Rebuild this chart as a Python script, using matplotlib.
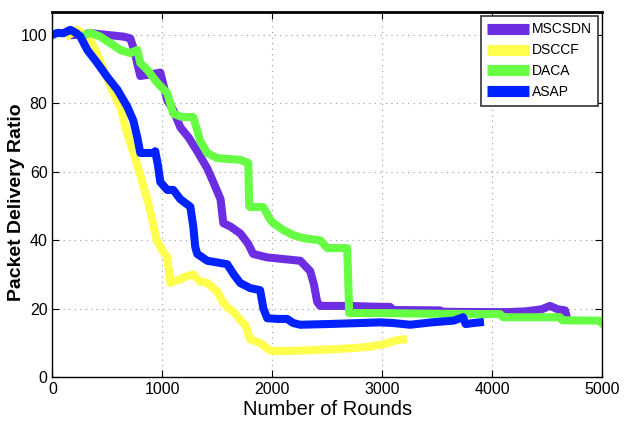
import numpy as np
import matplotlib.pyplot as plt

plt.rcParams['font.family'] = ['Liberation Sans', 'DejaVu Sans']

# MSCSDN (purple)
msc_x = [200, 350, 500, 650, 709, 740, 800, 900, 982, 1045, 1100, 1164, 1240, 1318, 1409,
         1464, 1530, 1555, 1620, 1709, 1780, 1827, 1950, 2100, 2255, 2345, 2380, 2409, 2436,
         2700, 2900, 3073, 3100, 3527, 3550, 3900, 4136, 4300, 4450, 4527, 4600, 4664, 4680]
msc_y = [100, 100.5, 100, 99.5, 99, 96, 88, 88.5, 89, 81, 78, 73, 70, 66, 61,
         57, 52, 45, 44, 42, 39, 36, 35, 34.5, 34, 31, 27, 22, 20.8,
         20.8, 20.6, 20.5, 19.6, 19.5, 19.1, 19, 19, 19.2, 19.8, 20.8, 19.8, 19.5, 17.5]

# DSCCF (yellow)
dsc_x = [150, 227, 300, 345, 400, 464, 555, 618, 682, 773, 827, 880, 950, 1000, 1045,
         1073, 1100, 1160, 1220, 1282, 1340, 1409, 1500, 1550, 1590, 1650, 1709, 1760, 1800,
         1890, 1950, 1982, 2100, 2300, 2600, 2864, 3000, 3136, 3190]
dsc_y = [100, 101.5, 100, 98.5, 95, 90, 83, 79, 71, 62, 56, 50, 40, 37, 35,
         27.5, 28, 28.5, 29.5, 30, 28, 27.5, 25, 22, 20.5, 19, 16.7, 15, 11,
         10, 8.5, 7.7, 7.6, 7.8, 8.2, 8.8, 9.5, 10.8, 11]

# DACA (green)
dac_x = [300, 345, 436, 527, 618, 709, 773, 800, 864, 955, 1045, 1100, 1180, 1282, 1345,
         1409, 1500, 1709, 1782, 1790, 1800, 1918, 1982, 2009, 2100, 2191, 2300, 2436, 2500,
         2682, 2690, 2700, 3000, 3500, 4073, 4100, 4618, 4640, 4980, 5000]
dac_y = [100, 100.6, 99.5, 97.6, 95.6, 94.7, 95.6, 91.8, 89.8, 86, 83, 77, 76, 76, 69,
         65.5, 64, 63.5, 62.6, 50, 49.7, 49.7, 46, 45, 43, 41.5, 40.5, 40, 37.7,
         37.7, 30, 18.7, 18.7, 18.5, 18.4, 17.5, 17.5, 16.6, 16.5, 15.8]

# ASAP (blue)
asp_x = [0, 45, 100, 164, 220, 255, 318, 409, 500, 591, 682, 736, 773, 800, 860, 918,
         936, 960, 982, 1045, 1100, 1164, 1255, 1282, 1300, 1318, 1409, 1500, 1590, 1650,
         1709, 1800, 1890, 1920, 1955, 2050, 2136, 2191, 2255, 2500, 2800, 2982, 3100,
         3255, 3450, 3650, 3736, 3760, 3830, 3890]
asp_y = [100, 100.6, 100.5, 101.5, 100.5, 99.5, 95.6, 91.8, 87.7, 84, 79, 75, 70, 65.5, 65.5, 65.5,
         66, 62, 57, 54.7, 54.7, 52, 49.8, 44, 38, 36, 34, 33.5, 33, 30,
         27.5, 26, 25.4, 20, 17.2, 17, 17, 15.8, 15.3, 15.5, 15.8, 16, 15.8,
         15.3, 16, 16.5, 17.5, 15.5, 15.8, 16]

fig = plt.figure(figsize=(6.31, 4.29), dpi=100)
ax = fig.add_axes([0.083, 0.121, 0.871, 0.851])

lw = 5.8
ax.plot(msc_x, msc_y, color='#6c2ee0', lw=lw, label='MSCSDN', solid_joinstyle='round')
ax.plot(dsc_x, dsc_y, color='#ffff4d', lw=lw, label='DSCCF', solid_joinstyle='round')
ax.plot(dac_x, dac_y, color='#66ff44', lw=lw, label='DACA', solid_joinstyle='round')
ax.plot(asp_x, asp_y, color='#0022ff', lw=lw, label='ASAP', solid_joinstyle='round')

ax.set_xlim(0, 5000)
ax.set_ylim(0, 106.7)
ax.set_xticks([0, 1000, 2000, 3000, 4000, 5000])
ax.set_yticks([0, 20, 40, 60, 80, 100])
ax.tick_params(direction='in', top=True, right=True, labelsize=11.5, length=5)
ax.grid(True, linestyle=(0, (1, 4)), color='#999999', lw=0.8)
for s in ax.spines.values():
    s.set_linewidth(1.0)
ax.spines['top'].set_linewidth(2)

ax.set_xlabel('Number of Rounds', fontsize=14.5, labelpad=2)
ax.set_ylabel('Packet Delivery Ratio', fontsize=14, fontweight='bold')
ax.yaxis.set_label_coords(-0.05, 0.48)

leg = ax.legend(loc='upper right', fontsize=10, handlelength=3.0, handletextpad=0.2,
                labelspacing=0.5, borderpad=0.45, fancybox=False, framealpha=1,
                edgecolor='#333333', borderaxespad=0.3)
leg.get_frame().set_linewidth(1.2)
for l in leg.get_lines():
    l.set_linewidth(8)
    l.set_solid_capstyle('butt')

fig.savefig('out.png', dpi=100)
